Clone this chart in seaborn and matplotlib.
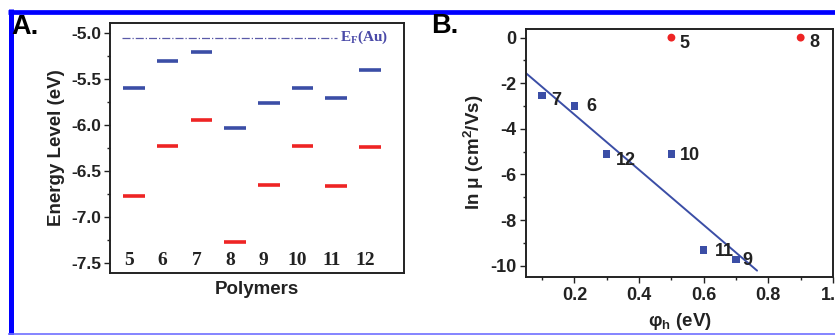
import numpy as np
import pandas as pd
import seaborn as sns
import matplotlib.pyplot as plt
from matplotlib.lines import Line2D
from matplotlib.ticker import MultipleLocator

# panel A: energy levels of the polymers
polymers = ['5', '6', '7', '8', '9', '10', '11', '12']
upper_level = [-5.60, -5.30, -5.20, -6.03, -5.76, -5.60, -5.70, -5.40]
lower_level = [-6.77, -6.23, -5.94, -7.27, -6.65, -6.23, -6.66, -6.24]
ef_au = -5.05

# panel B: mobility vs barrier
fit_labels = ['7', '6', '12', '10', '11', '9']
fit_phi = [0.10, 0.20, 0.30, 0.50, 0.60, 0.70]
fit_lnmu = [-2.54, -3.00, -5.11, -5.11, -9.31, -9.72]
out_labels = ['5', '8']
out_phi = [0.50, 0.90]
out_lnmu = [0.0, 0.0]
line_phi = [0.05, 0.765]
line_lnmu = [-1.56, -10.22]

label_offsets = {'7': (10, -3.5), '6': (12.5, 0), '12': (13.5, -4.6), '10': (13.5, -1),
                 '11': (14.5, -1.5), '9': (8.5, -1), '5': (9.5, -4), '8': (9.5, -3.3)}

sns.set_theme(style='ticks')
plt.rcParams['font.family'] = ['Liberation Sans', 'DejaVu Sans']
plt.rcParams['font.weight'] = 'bold'
plt.rcParams['axes.labelweight'] = 'bold'
plt.rcParams['mathtext.fontset'] = 'custom'
plt.rcParams['mathtext.rm'] = 'Liberation Serif:bold'
plt.rcParams['mathtext.bf'] = 'Liberation Sans:bold'

fig = plt.figure(figsize=(8.35, 3.35), dpi=100)
W, H = 835, 335


def px_axes(l, t, r, b):
    return fig.add_axes([l / W, 1 - b / H, (r - l) / W, (b - t) / H])


dark = '#222222'
blue = '#3b4ea6'
red = '#ee2424'

# ---------------- panel A ----------------
axA = px_axes(110, 23, 404, 273)
xpos = np.arange(len(polymers))
axA.hlines(upper_level, xpos - 0.32, xpos + 0.32, color=blue, lw=2.6)
axA.hlines(lower_level, xpos - 0.32, xpos + 0.32, color=red, lw=2.6)
axA.plot([-0.36, 6.02], [ef_au, ef_au], color='#5a5aa8', lw=0.9, ls='-.')
axA.text(6.12, ef_au, r'E$_\mathrm{F}$(Au)', family='Liberation Serif', fontsize=11,
         color='#4a4aa8', va='center', ha='left', weight='bold')
for i, p in enumerate(polymers):
    axA.text(i - 0.15, -7.47, p, family='Liberation Serif', fontsize=14, weight='bold',
             ha='center', va='center', color=dark)
axA.set_xlim(-0.71, 8.01)
axA.set_ylim(-7.605, -4.89)
axA.set_xticks([])
axA.yaxis.set_minor_locator(MultipleLocator(0.25))
axA.set_yticks(np.arange(-7.5, -4.99, 0.5))
axA.set_yticklabels(['%.1f' % v for v in np.arange(-7.5, -4.99, 0.5)])
axA.tick_params(axis='y', which='major', length=4, width=1, pad=2, labelsize=12.5, colors=dark)
axA.tick_params(axis='y', which='minor', length=2.5, width=1, colors=dark)
axA.set_ylabel('Energy Level (eV)', fontsize=13.5, labelpad=5, color=dark)
axA.set_xlabel('Polymers', fontsize=13.5, labelpad=6, color=dark)
for s in axA.spines.values():
    s.set_linewidth(1.4)
    s.set_color(dark)

# ---------------- panel B ----------------
axB = px_axes(526, 28.5, 833, 277)
df_fit = pd.DataFrame({'phi': fit_phi, 'lnmu': fit_lnmu, 'label': fit_labels})
df_out = pd.DataFrame({'phi': out_phi, 'lnmu': out_lnmu, 'label': out_labels})
df_line = pd.DataFrame({'phi': line_phi, 'lnmu': line_lnmu})
sns.lineplot(data=df_line, x='phi', y='lnmu', ax=axB, color=blue, lw=1.4)
sns.scatterplot(data=df_fit, x='phi', y='lnmu', ax=axB, marker='s', s=28, color=blue,
                edgecolor='none', zorder=3)
sns.scatterplot(data=df_out, x='phi', y='lnmu', ax=axB, marker='o', s=32, color=red,
                edgecolor='none', zorder=3)
for df in (df_fit, df_out):
    for _, row in df.iterrows():
        axB.annotate(row['label'], (row['phi'], row['lnmu']), xytext=label_offsets[row['label']],
                     textcoords='offset points', ha='center', va='center', fontsize=13,
                     weight='bold', color=dark)
axB.set_xlim(0.05, 1.0)
axB.set_ylim(-10.5, 0.4)
axB.xaxis.set_major_locator(MultipleLocator(0.2))
axB.xaxis.set_minor_locator(MultipleLocator(0.1))
axB.yaxis.set_major_locator(MultipleLocator(2))
axB.yaxis.set_minor_locator(MultipleLocator(1))
axB.xaxis.set_major_formatter(lambda v, p: '%.1f' % v)
axB.yaxis.set_major_formatter(lambda v, p: '%d' % round(v))
axB.tick_params(which='major', length=4, width=1, pad=3, labelsize=13, colors=dark)
axB.tick_params(which='minor', length=2.5, width=1, colors=dark)
axB.set_ylabel(r'ln μ (cm$^\mathbf{2}$/Vs)', fontsize=13.5, labelpad=3, color=dark)
axB.set_xlabel(r'φ$_\mathbf{h}$ (eV)', fontsize=13.5, labelpad=5, color=dark)
for s in axB.spines.values():
    s.set_linewidth(1.4)
    s.set_color(dark)

# panel letters
fig.text(11 / W, 1 - 27 / H, 'A.', fontsize=19.5, weight='bold', va='center', ha='left', color='black')
fig.text(431 / W, 1 - 26 / H, 'B.', fontsize=19.5, weight='bold', va='center', ha='left', color='black')

# blue frame
fig.add_artist(Line2D([8 / W, 1], [1 - 11.7 / H] * 2, transform=fig.transFigure,
                      color='#0000ff', lw=3.4, solid_capstyle='butt'))
fig.add_artist(Line2D([10.5 / W] * 2, [0, 1 - 9.3 / H], transform=fig.transFigure,
                      color='#0000ff', lw=3.6, solid_capstyle='butt'))
fig.add_artist(Line2D([8 / W, 1], [1 - 334 / H] * 2, transform=fig.transFigure,
                      color='#6f6fff', lw=1.2, solid_capstyle='butt'))

fig.savefig('out.png', dpi=100)
